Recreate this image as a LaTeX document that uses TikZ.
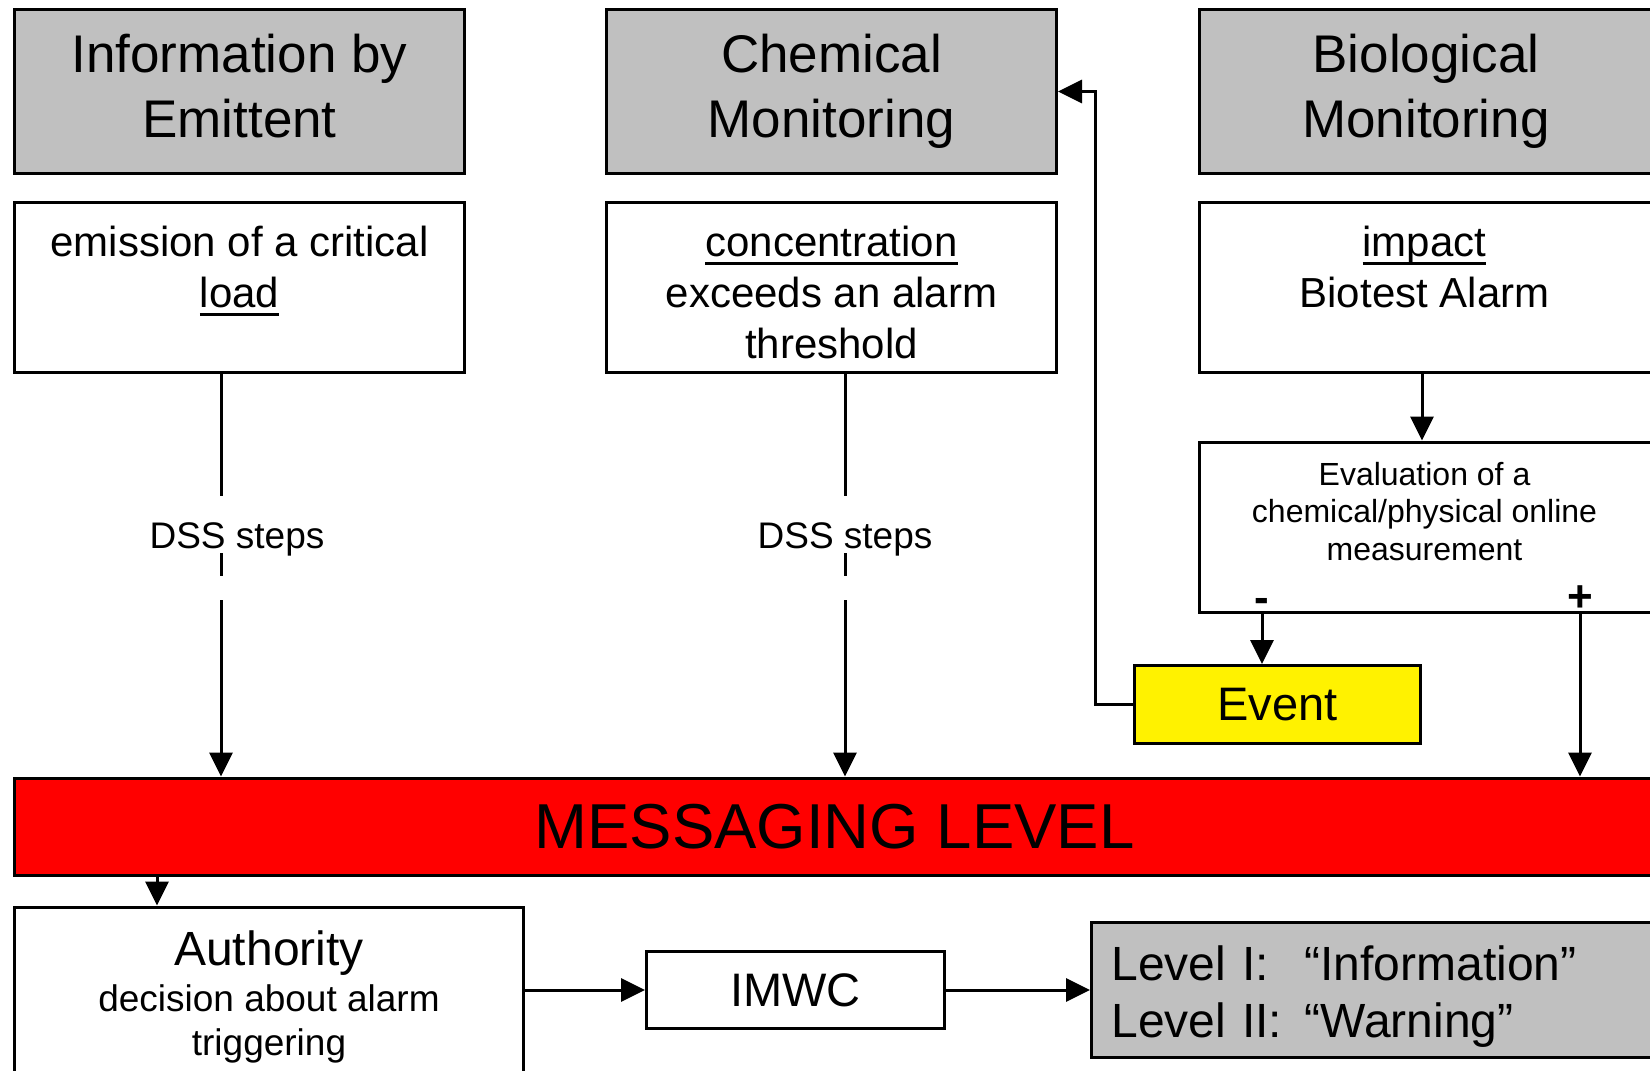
\documentclass[tikz,border=0pt]{standalone}
\usepackage{fontspec}
\setmainfont{Liberation Sans}
\usetikzlibrary{arrows.meta,positioning}

\definecolor{headgray}{RGB}{192,192,192}
\newcommand\undl[1]{\leavevmode\setbox0\hbox{#1}\rlap{\rule[-8pt]{\wd0}{3pt}}\box0}

\begin{document}
\begin{tikzpicture}[x=1pt, y=-1pt, >={Triangle[length=24pt,width=23pt]}, line width=3pt,
    head/.style={draw, fill=headgray, minimum width=450pt, minimum height=164pt, align=center, font=\fontsize{53}{65}\selectfont},
    cell/.style={draw, fill=white, minimum width=450pt, minimum height=170pt},
    celltext/.style={inner sep=0pt, align=center, font=\fontsize{42}{51}\selectfont},
    sign/.style={inner sep=0pt, font=\fontsize{44}{44}\selectfont\bfseries},
    dss/.style={dash pattern=on 122pt off 57pt on 23pt off 24pt on 400pt},
    dsslabel/.style={pos=0.41, inner sep=0pt, font=\fontsize{37}{42}\selectfont}]
    \useasboundingbox (0,0) rectangle (1650,1071);

    % Nodes {sources, messaging level, authority, IMWC, levels}
    \node [head]                            (emit_head) at (239.5,91.5)   {Information by\\Emittent\vphantom{g}};
    \node [head]                            (chem_head) at (831.5,91.5)   {Chemical\\Monitoring};
    \node [head, minimum width=453pt]       (bio_head)  at (1426,91.5)    {Biological\\Monitoring};

    \node [cell]                            (emit_txt)  at (239.5,287.5)  {};
    \node [cell]                            (chem_txt)  at (831.5,287.5)  {};
    \node [cell, minimum width=453pt]       (bio_txt)   at (1426,287.5)   {};
    \node [celltext, below=24pt of emit_txt.north]  (emit_lbl)  {emission of a critical\\\undl{load}};
    \node [celltext, below=24pt of chem_txt.north]  (chem_lbl)  {\undl{concentration}\\exceeds an alarm\\threshold};
    \node [celltext, below=24pt of bio_txt.north, xshift=-1.5pt] (bio_lbl) {\undl{impact}\\Biotest Alarm};

    \node [cell, minimum width=453pt]       (eval)      at (1426,527)     {};
    \node [celltext, font=\fontsize{32}{37.5}\selectfont, below=20pt of eval.north, xshift=-1.5pt] (eval_lbl) {Evaluation of a\\chemical/physical online\\measurement};
    \node [sign]                            (minus)     at (1262,605)     {-};
    \node [sign]                            (plus)      at (1580,599)     {+};

    \node [draw, fill=yellow, minimum width=286pt, minimum height=78pt, font=\fontsize{47}{50}\selectfont]
                                            (event)     at (1277.5,704.5) {Event};
    \node [draw, fill=red, minimum width=1640pt, minimum height=97pt, font=\fontsize{63.5}{70}\selectfont]
                                            (msg)       at (834.5,826.5)  {MESSAGING LEVEL};

    \node [draw, minimum width=509pt, minimum height=180pt, align=center, font=\fontsize{37}{44}\selectfont]
                                            (auth)      at (269,997)      {{\fontsize{48}{48}\selectfont Authority}\\[2pt]decision about alarm\\triggering};
    \node [draw, minimum width=298pt, minimum height=77pt, font=\fontsize{47}{50}\selectfont]
                                            (imwc)      at (795.5,990)    {IMWC};
    \node [draw, fill=headgray, anchor=west, text width=522pt, inner xsep=20pt, minimum height=135pt, align=left, font=\fontsize{48}{57}\selectfont]
                                            (levels)    at (1090,990)     {\rule{0pt}{48pt}\makebox[193pt][l]{Level I:}“Information”\\\makebox[193pt][l]{Level II:}“Warning”};

    % Paths
    \path [->, dss] ([xshift=-18.5pt]emit_txt.south) edge node [dsslabel, xshift=16pt] {DSS steps} ([xshift=-18.5pt]emit_txt.south |- msg.north);
    \path [->, dss] ([xshift=13.5pt]chem_txt.south)  edge node [dsslabel]              {DSS steps} ([xshift=13.5pt]chem_txt.south |- msg.north);
    \path [->]      ([xshift=-4pt]bio_txt.south)     edge ([xshift=-4pt]eval.north);
    \path [->]      (minus |- eval.south)            edge (minus |- event.north);
    \path [->]      (plus |- eval.south)             edge (plus |- msg.north);
    \draw [->]      (event.west) -- ++(-37.5,0) |- (chem_head.east);
    \path [->]      ([xshift=-112pt]auth.north |- msg.south) edge ([xshift=-112pt]auth.north);
    \path [->]      (auth.east |- imwc.west)         edge (imwc.west);
    \path [->]      (imwc.east)                      edge (levels.west);

\end{tikzpicture}
\end{document}
